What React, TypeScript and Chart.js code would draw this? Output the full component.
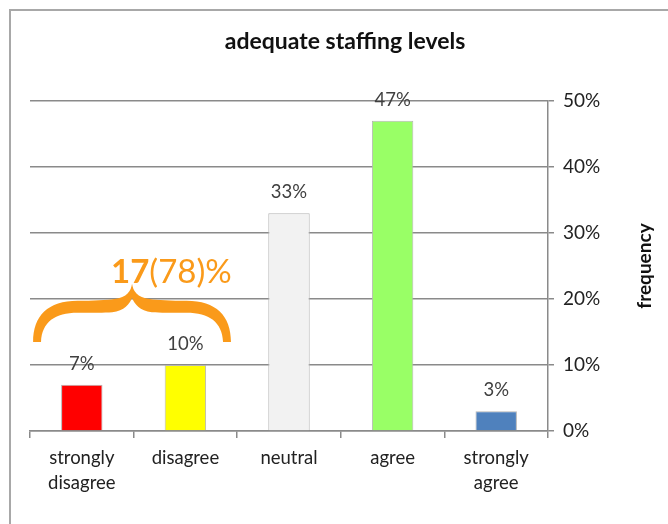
import { useEffect, useRef } from "react";
import { Chart, registerables } from "chart.js";
Chart.register(...registerables);

const categories: (string | string[])[] = [["strongly", "disagree"], "disagree", "neutral", "agree", ["strongly", "agree"]];
const values = [7, 10, 33, 47, 3];
const barColors = ["#ff0000", "#ffff00", "#f2f2f2", "#99ff66", "#4f81bd"];
const yTickMax = 50;
const yTickStep = 10;
const chartTitle = "adequate staffing levels";
const yTitle = "frequency";
const braceFrom = 0;
const braceTo = 1;
const braceBottom = 13.5;
const bracePeak = 22.3;
const braceTextLevel = 24;
const braceBold = "17";
const braceRest = "(78)%";

const FONT = "Lato, 'Liberation Sans', sans-serif";
const ORANGE = "#fa9a1a";
const GRID = "#8a8a8a";

function drawBrace(ctx: CanvasRenderingContext2D, x0: number, x1: number, yt: number, yb: number) {
  const cx = (x0 + x1) / 2;
  const hw = (x1 - x0) / 2;
  const h = yb - yt;
  const P = (u: number, v: number): [number, number] => [cx + u * hw, yt + v * h];
  const c = (a: [number, number], b: [number, number], d: [number, number]) =>
    ctx.bezierCurveTo(a[0], a[1], b[0], b[1], d[0], d[1]);
  ctx.beginPath();
  let p = P(-1, 1);
  ctx.moveTo(p[0], p[1]);
  c(P(-1, 0.55), P(-0.85, 0.29), P(-0.55, 0.29));
  c(P(-0.4, 0.29), P(-0.25, 0.28), P(-0.18, 0.26));
  c(P(-0.05, 0.24), P(-0.01, 0.12), P(0, 0));
  c(P(0.01, 0.12), P(0.05, 0.24), P(0.18, 0.26));
  c(P(0.25, 0.28), P(0.4, 0.29), P(0.55, 0.29));
  c(P(0.85, 0.29), P(1, 0.55), P(1, 1));
  p = P(0.92, 1);
  ctx.lineTo(p[0], p[1]);
  c(P(0.91, 0.66), P(0.78, 0.5), P(0.55, 0.5));
  c(P(0.4, 0.5), P(0.28, 0.5), P(0.2, 0.49));
  c(P(0.08, 0.47), P(0.02, 0.34), P(0, 0.24));
  c(P(-0.02, 0.34), P(-0.08, 0.47), P(-0.2, 0.49));
  c(P(-0.28, 0.5), P(-0.4, 0.5), P(-0.55, 0.5));
  c(P(-0.78, 0.5), P(-0.91, 0.66), P(-0.92, 1));
  ctx.closePath();
  ctx.fillStyle = ORANGE;
  ctx.fill();
}

const overlay = {
  id: "overlay",
  beforeDraw(chart: any) {
    const ctx = chart.ctx as CanvasRenderingContext2D;
    ctx.save();
    ctx.fillStyle = "#fff";
    ctx.fillRect(0, 0, chart.width, chart.height);
    ctx.strokeStyle = "#a8a8a8";
    ctx.lineWidth = 2;
    ctx.strokeRect(10, 10, chart.width + 50, chart.height + 50);
    ctx.restore();
  },
  afterDraw(chart: any) {
    const ctx = chart.ctx as CanvasRenderingContext2D;
    const xs = chart.scales.x;
    const ys = chart.scales.y;
    const area = chart.chartArea;
    ctx.save();
    // title
    ctx.fillStyle = "#111";
    ctx.font = `bold 23px ${FONT}`;
    ctx.textAlign = "center";
    ctx.textBaseline = "middle";
    ctx.fillText(chartTitle, 345, 42);
    // y title
    ctx.save();
    ctx.translate(645, (area.top + area.bottom) / 2);
    ctx.rotate(-Math.PI / 2);
    ctx.font = `bold 19px ${FONT}`;
    ctx.fillText(yTitle, 0, 0);
    ctx.restore();
    // data labels
    const meta = chart.getDatasetMeta(0);
    ctx.font = `18.5px ${FONT}`;
    ctx.fillStyle = "#404040";
    meta.data.forEach((bar: any, i: number) => {
      ctx.fillText(values[i] + "%", bar.x, bar.y - 21);
    });
    // brace
    const catW = xs.getPixelForValue(1) - xs.getPixelForValue(0);
    const x0 = xs.getPixelForValue(braceFrom) - 0.47 * catW;
    const x1 = xs.getPixelForValue(braceTo) + 0.44 * catW;
    drawBrace(ctx, x0, x1, ys.getPixelForValue(bracePeak), ys.getPixelForValue(braceBottom));
    const cx = (x0 + x1) / 2;
    const ty = ys.getPixelForValue(braceTextLevel);
    ctx.fillStyle = ORANGE;
    ctx.textAlign = "left";
    ctx.font = `bold 33px ${FONT}`;
    const bx = cx - 21;
    ctx.fillText(braceBold, bx, ty);
    const bw = ctx.measureText(braceBold).width;
    ctx.font = `33px ${FONT}`;
    ctx.fillText(braceRest, bx + bw, ty);
    ctx.restore();
  },
};

export default function App() {
  const ref = useRef<HTMLCanvasElement>(null);
  useEffect(() => {
    if (!ref.current) return;
    const chart = new Chart(ref.current, {
      type: "bar",
      data: {
        labels: categories as any,
        datasets: [
          {
            data: values,
            backgroundColor: barColors,
            borderColor: "#b5b5b5",
            borderWidth: 1,
            barPercentage: 0.4,
            categoryPercentage: 1,
          },
        ],
      },
      options: {
        animation: false,
        responsive: false,
        devicePixelRatio: 1,
        layout: { padding: { top: 101, left: 30, right: 0, bottom: 0 } },
        plugins: { legend: { display: false }, title: { display: false }, tooltip: { enabled: false } },
        scales: {
          x: {
            grid: { display: true, drawOnChartArea: false, drawTicks: true, tickLength: 7, color: GRID, lineWidth: 1.5, offset: true },
            border: { display: true, color: GRID, width: 1.5 },
            ticks: { color: "#222", font: { family: FONT, size: 18.5, lineHeight: 1.35 }, padding: 8, maxRotation: 0, autoSkip: false },
            afterFit: (s: any) => { s.height = 93; },
          },
          y: {
            position: "right",
            min: 0,
            max: yTickMax,
            grid: { color: GRID, lineWidth: 1.5, tickLength: 6, drawTicks: true },
            border: { display: true, color: GRID, width: 1.5 },
            ticks: { stepSize: yTickStep, color: "#222", font: { family: FONT, size: 19 }, padding: 9, callback: (v: any) => v + "%" },
            afterFit: (s: any) => { s.width = 120; },
          },
        },
      },
      plugins: [overlay],
    });
    return () => chart.destroy();
  }, []);
  return (
    <canvas ref={ref} width={668} height={524} style={{ position: "absolute", left: 0, top: 0, display: "block" }} />
  );
}
